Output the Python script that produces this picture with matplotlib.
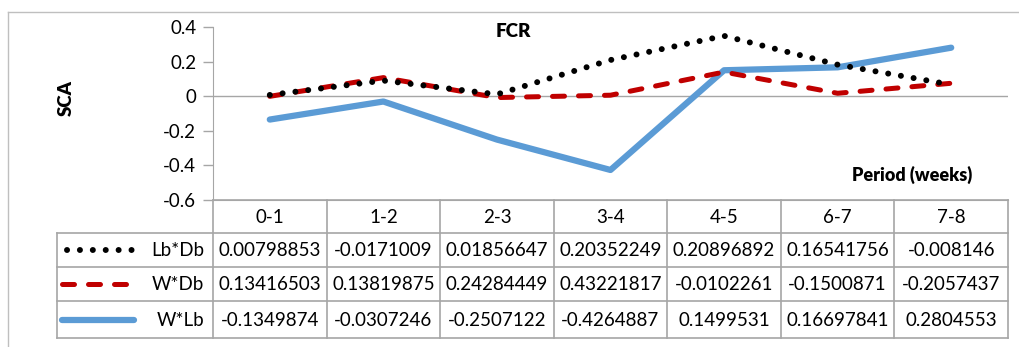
import numpy as np
import matplotlib
matplotlib.use("Agg")
import matplotlib.pyplot as plt

plt.rcParams['font.family'] = ['Lato', 'DejaVu Sans']

categories = ["0-1", "1-2", "2-3", "3-4", "4-5", "6-7", "7-8"]
series_names = ["Lb*Db", "W*Db", "W*Lb"]
lb_db = [0.00798853, -0.0171009, 0.01856647, 0.20352249, 0.20896892, 0.16541756, -0.008146]
w_db = [0.13416503, 0.13819875, 0.24284449, 0.43221817, -0.0102261, -0.1500871, -0.2057437]
w_lb = [-0.1349874, -0.0307246, -0.2507122, -0.4264887, 0.1499531, 0.16697841, 0.2804553]
labels_txt = {
    "Lb*Db": ["0.00798853", "-0.0171009", "0.01856647", "0.20352249", "0.20896892", "0.16541756", "-0.008146"],
    "W*Db": ["0.13416503", "0.13819875", "0.24284449", "0.43221817", "-0.0102261", "-0.1500871", "-0.2057437"],
    "W*Lb": ["-0.1349874", "-0.0307246", "-0.2507122", "-0.4264887", "0.1499531", "0.16697841", "0.2804553"],
}
yticks = [0.4, 0.2, 0, -0.2, -0.4, -0.6]
ytick_labels = ["0.4", "0.2", "0", "-0.2", "-0.4", "-0.6"]

# stacked line chart (as in the original Excel chart)
s_wlb = np.array(w_lb)
s_wdb = s_wlb + np.array(w_db)
s_lbdb = s_wdb + np.array(lb_db)

W, H = 1020, 347
fig = plt.figure(figsize=(W / 100, H / 100), dpi=100)
fig.patch.set_facecolor("white")

x0p, x1p, ytop, ybot = 213, 1008, 27, 200
ax = fig.add_axes([x0p / W, 1 - ybot / H, (x1p - x0p) / W, (ybot - ytop) / H])
x = np.arange(len(categories))
gray = "#A6A6A6"
blue = "#5B9BD5"
red = "#C00000"

dot_style = dict(color="black", lw=4.3, linestyle=(0, (0.01, 2.15)), dash_capstyle="round")
dash_style = dict(color=red, lw=3.6, linestyle=(0, (2.4, 2.8)), dash_capstyle="round")
solid_style = dict(color=blue, lw=4.5, linestyle="-", solid_capstyle="round")

ax.set_xlim(-0.5, len(categories) - 0.5)
ax.set_ylim(-0.6, 0.4)
ax.axhline(0, color=gray, lw=1, zorder=1)
ax.plot(x, s_wlb, zorder=3, **solid_style)
ax.plot(x, s_wdb, zorder=4, **dash_style)
ax.plot(x, s_lbdb, zorder=5, **dot_style)

ax.set_yticks(yticks)
ax.set_yticklabels(ytick_labels, fontsize=13.5)
ax.tick_params(axis="y", length=7, color=gray, width=1, pad=5)
ax.set_xticks([])
for s in ["top", "right"]:
    ax.spines[s].set_visible(False)
ax.spines["left"].set_color(gray)
ax.spines["bottom"].set_color(gray)

# overlay in pixel coordinates
ov = fig.add_axes([0, 0, 1, 1], zorder=-1)
ov.set_xlim(0, W)
ov.set_ylim(H, 0)
ov.axis("off")
ov.plot([8, 8], [12, H], color="#BFBFBF", lw=1)
ov.plot([8, W], [12, 12], color="#BFBFBF", lw=1)

ov2 = fig.add_axes([0, 0, 1, 1], zorder=10)
ov2.set_xlim(0, W)
ov2.set_ylim(H, 0)
ov2.axis("off")
ov2.patch.set_alpha(0)

ov2.text(513, 31, "FCR", fontsize=13.5, fontweight="heavy", ha="center", va="center")
ov2.text(66, 98, "SCA", fontsize=13.5, fontweight="heavy", ha="center", va="center", rotation=90)
ov2.text(912, 175, "Period (weeks)", fontsize=13, fontweight="heavy", ha="center", va="center")

n = len(categories)
cw = (x1p - x0p) / n
rows = [200, 233, 267, 301, 338]
lc = "#A6A6A6"
leg_x0 = 57
for k in range(n + 1):
    xx = x0p + k * cw
    ov2.plot([xx, xx], [rows[0], rows[-1]], color=lc, lw=1.2)
ov2.plot([leg_x0, leg_x0], [rows[1], rows[-1]], color=lc, lw=1.2)
ov2.plot([x0p, x1p], [rows[0], rows[0]], color=lc, lw=1.2)
for r in rows[1:]:
    ov2.plot([leg_x0, x1p], [r, r], color=lc, lw=1.2)

for k, c in enumerate(categories):
    ov2.text(x0p + (k + 0.5) * cw, (rows[0] + rows[1]) / 2 + 1, c, fontsize=13.5, ha="center", va="center")

leg_styles = [(dot_style, (67, 135)), (dash_style, (62, 132)), (solid_style, (62, 134))]
for i, name in enumerate(series_names):
    yc = (rows[i + 1] + rows[i + 2]) / 2
    st, xs = leg_styles[i]
    ov2.plot([xs[0], xs[1]], [yc, yc], **st)
    ov2.text(204, yc + 1, name, fontsize=13.5, ha="right", va="center")
    for k in range(n):
        ov2.text(x0p + (k + 0.5) * cw, yc + 1, labels_txt[name][k], fontsize=13.5, ha="center", va="center")

fig.savefig("out.png", dpi=100, facecolor="white")
